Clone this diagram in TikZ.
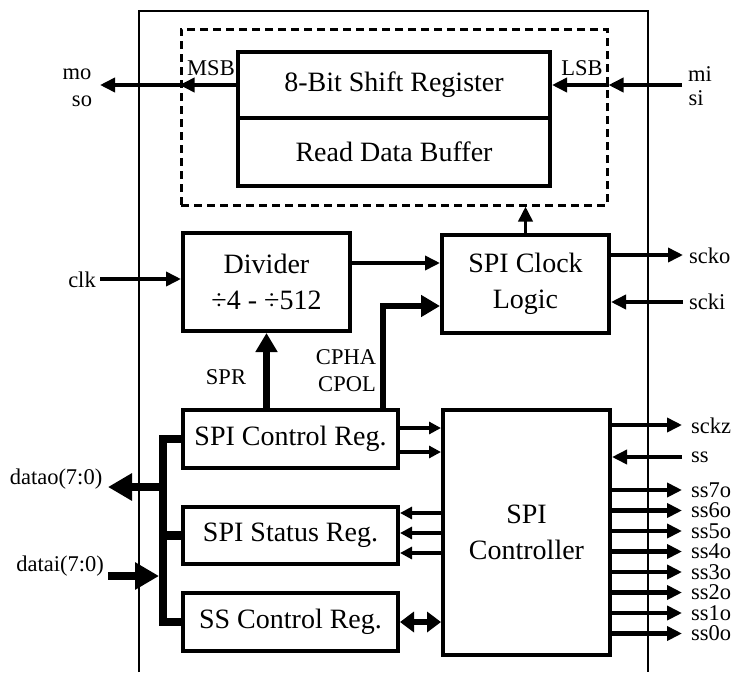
\documentclass[tikz,border=0pt]{standalone}
\usepackage{fontspec}
\setmainfont{Liberation Serif}
\usetikzlibrary{arrows.meta}
\begin{document}
\begin{tikzpicture}[x=1pt,y=-1pt,
  blk/.style={draw, line width=4pt, inner sep=0pt, align=center, font=\fontsize{28}{36}\selectfont},
  lbl/.style={inner sep=0pt, font=\fontsize{22.5}{26}\selectfont},
  sig/.style={line width=3.6pt, -{Triangle[length=15pt,width=14pt]}},
  sigs/.style={line width=3.2pt, -{Triangle[length=12pt,width=12pt]}},
  thk/.style={line width=6.5pt, -{Triangle[length=19pt,width=21pt]}},
  dbl/.style={line width=6.5pt, {Triangle[length=14pt,width=20pt]}-{Triangle[length=14pt,width=20pt]}},
  bus/.style={line width=8.5pt},
  busarr/.style={line width=8.5pt, -{Triangle[length=24pt,width=26pt]}},
  frame/.style={line width=2.3pt}
]
\useasboundingbox (0,0) rectangle (735,672);

% outer frame
\draw[frame] (139,672) -- (139,11) -- (648,11) -- (648,672);

% dashed region and shift register
\node[draw, dash pattern=on 8pt off 5pt, line width=3pt, minimum width=426pt, minimum height=176pt, inner sep=0pt] (dash) at (394,117) {};
\node[blk, minimum width=312pt, minimum height=66pt] (sr) at (394,85) {8-Bit Shift Register};
\node[blk, minimum width=312pt, minimum height=68pt] (rdb) at (394,152) {Read Data Buffer};

% blocks
\node[blk, minimum width=167pt, minimum height=98pt] (div) at (266.5,282) {Divider\\÷4 - ÷512};
\node[blk, minimum width=167pt, minimum height=98pt] (clkl) at (525.5,284) {SPI Clock\\Logic};
\node[blk, minimum width=215pt, minimum height=58pt] (ctrl) at (290.5,439) {SPI Control Reg.};
\node[blk, minimum width=215pt, minimum height=57pt] (stat) at (290.5,535.5) {SPI Status Reg.};
\node[blk, minimum width=215pt, minimum height=58pt] (ssr) at (290.5,622) {SS Control Reg.};
\node[blk, minimum width=167pt, minimum height=245pt] (spic) at (526.5,532.5) {SPI\\Controller};

% labels
\node[lbl] (lmo) at (77,74) {mo};
\node[lbl] (lso) at (82,101) {so};
\node[lbl] (lmsb) at (211,68) {MSB};
\node[lbl] (llsb) at (582,68) {LSB};
\node[lbl] (lmi) at (700,74) {mi};
\node[lbl] (lsi) at (696,98) {si};
\node[lbl] (lclk) at (82,280) {clk};
\node[lbl] (lspr) at (226,377) {SPR};
\node[lbl] (lcpha) at (346,357) {CPHA};
\node[lbl] (lcpol) at (347,384) {CPOL};
\node[lbl, anchor=west] (lscko) at (689,256) {scko};
\node[lbl, anchor=west] (lscki) at (689,302) {scki};
\node[lbl, anchor=west] (lsckz) at (691,426) {sckz};
\node[lbl, anchor=west] (lss) at (691,457) {ss};
\node[lbl] (ldo) at (56,479) {datao(7:0)};
\node[lbl] (ldi) at (60,566) {datai(7:0)};

% coordinates
\coordinate (moE) at (100,85);
\coordinate (miE) at (682,85);
\coordinate (clkE) at (100,279);
\coordinate (dc) at (0,263);
\coordinate (cp) at (383,306);
\coordinate (sckoE) at (683,255);
\coordinate (sckiE) at (683,302);
\coordinate (c1) at (0,428);
\coordinate (c2) at (0,452);
\coordinate (s1) at (0,513);
\coordinate (s2) at (0,533);
\coordinate (s3) at (0,553);
\coordinate (sckzE) at (682,425);
\coordinate (ssE) at (682,457);
\coordinate (bx) at (163,0);
\coordinate (doE) at (108,487);
\coordinate (diS) at (108,576);

% shift register I/O
\draw[sig] (sr.west) -- (sr.west -| dash.west);
\draw[sig] (sr.west -| dash.west) -- (moE);
\draw[sig] (miE) -- (miE -| dash.east);
\draw[sig] (miE -| dash.east) -- (sr.east);

% clock path
\draw[sig] (clkE) -- (clkE -| div.west);
\draw[sig] (div.east |- dc) -- (clkl.west |- dc);
\draw[thk] (div.south |- ctrl.north) -- (div.south);
\draw[thk] (cp |- ctrl.north) |- (cp -| clkl.west);
\draw[sig] (clkl.north) -- (clkl.north |- dash.south);
\draw[sig] (clkl.east |- sckoE) -- (sckoE);
\draw[sig] (sckiE) -- (sckiE -| clkl.east);

% register <-> controller
\draw[sigs] (ctrl.east |- c1) -- (spic.west |- c1);
\draw[sigs] (ctrl.east |- c2) -- (spic.west |- c2);
\draw[sigs] (spic.west |- s1) -- (stat.east |- s1);
\draw[sigs] (spic.west |- s2) -- (stat.east |- s2);
\draw[sigs] (spic.west |- s3) -- (stat.east |- s3);
\draw[dbl] (ssr.east) -- (ssr.east -| spic.west);

% controller outputs
\draw[sig] (spic.east |- sckzE) -- (sckzE);
\draw[sig] (ssE) -- (ssE -| spic.east);
\foreach \y/\t in {490/ss7o, 510.5/ss6o, 531/ss5o, 551.5/ss4o, 572/ss3o, 592.5/ss2o, 613/ss1o, 633.5/ss0o} {
  \coordinate (e\t) at (682,\y);
  \draw[sig, line width=4.2pt] (spic.east |- e\t) -- (e\t);
  \node[lbl, anchor=west] (l\t) at (691,\y) {\t};
}

% data bus
\draw[bus] (ctrl.west) -| (bx |- ssr.west) -- (ssr.west);
\draw[bus] (bx |- stat.west) -- (stat.west);
\draw[busarr] (bx |- doE) -- (doE);
\draw[busarr, shorten >=4pt] (diS) -- (bx |- diS);
\end{tikzpicture}
\end{document}
